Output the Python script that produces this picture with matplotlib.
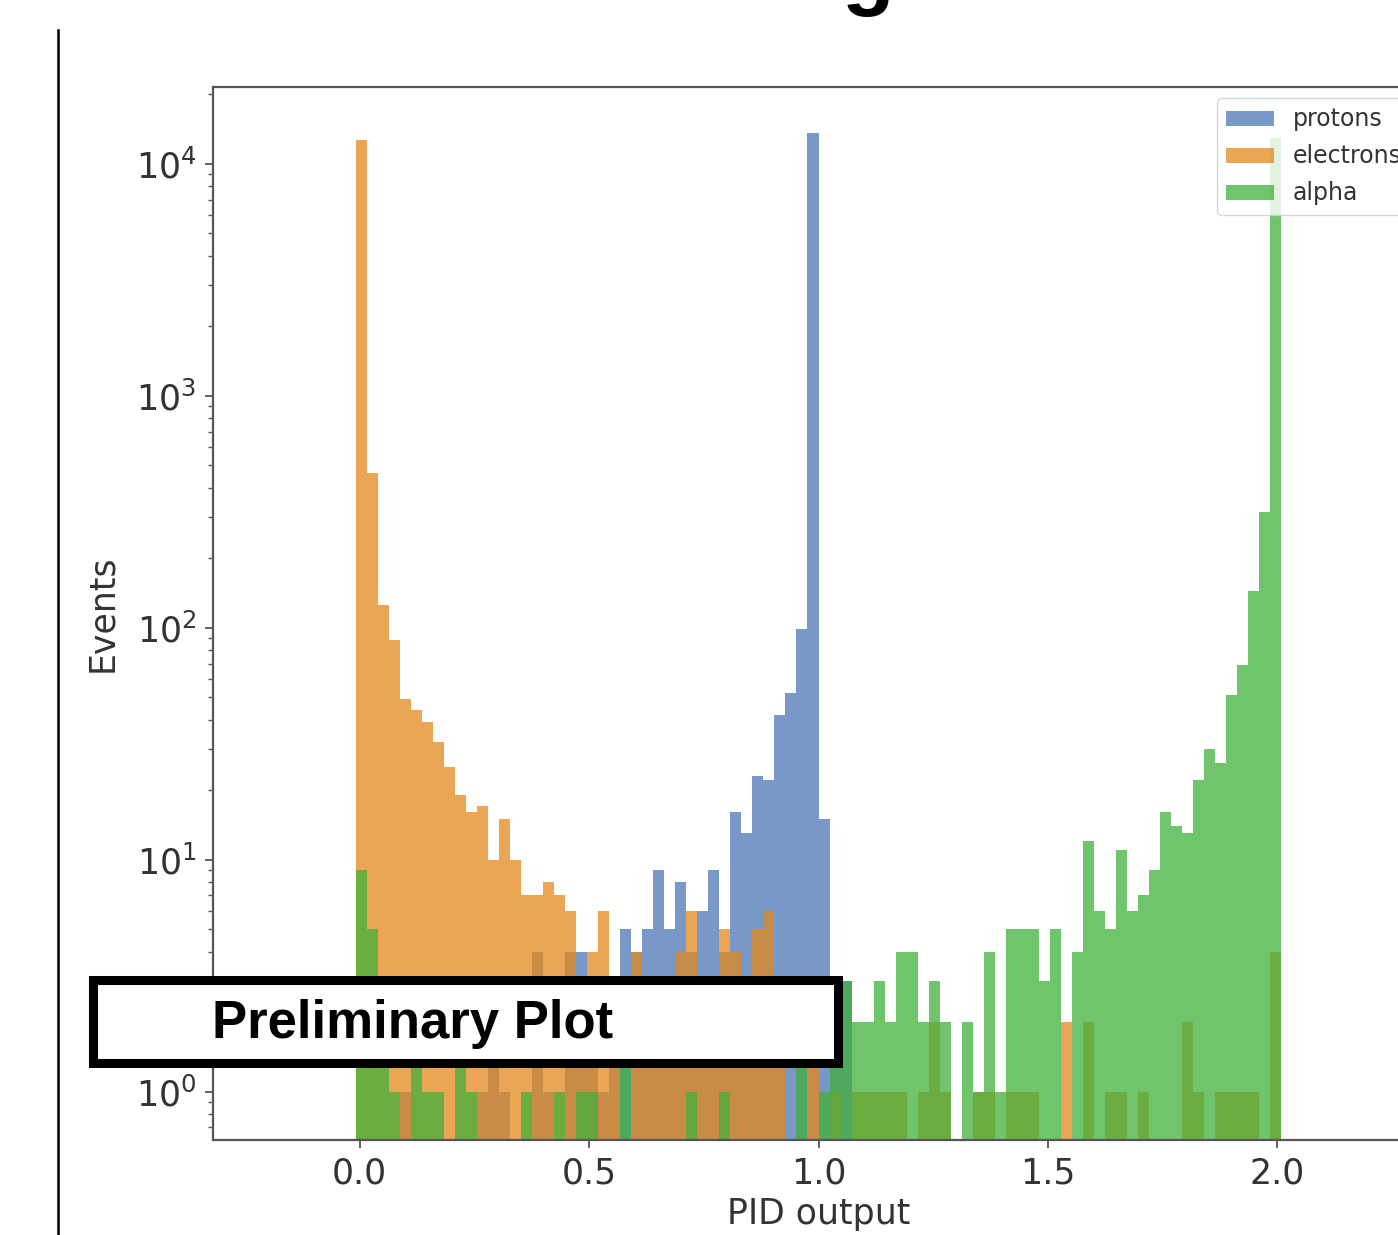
import numpy as np
import matplotlib
matplotlib.use("Agg")
import matplotlib.pyplot as plt
from matplotlib.patches import Rectangle
from matplotlib.lines import Line2D

# histogram binning (84 bins, width 0.024)
bin_edges = np.linspace(-0.008, 2.008, 85)
bin_centers = 0.5 * (bin_edges[:-1] + bin_edges[1:])

# counts per bin
protons = [0, 0, 0, 0, 1, 0, 0, 0, 0, 0,
           0, 1, 2, 1, 0, 0, 4, 1, 0, 4,
           4, 2, 1, 2, 5, 4, 5, 9, 5, 8,
           4, 6, 9, 4, 16, 13, 23, 22, 42, 52,
           99, 13500, 15, 3, 3, 0, 0, 0, 0, 0,
           0, 0, 0, 0, 0, 0, 0, 0, 0, 0,
           0, 0, 0, 0, 0, 0, 0, 0, 0, 0,
           0, 0, 0, 0, 0, 0, 0, 0, 0, 0,
           0, 0, 0, 0]
electrons = [12600, 465, 125, 88, 49, 44, 39, 32, 25, 19,
             16, 17, 10, 15, 10, 7, 7, 8, 7, 6,
             2, 4, 6, 2, 0, 4, 2, 2, 2, 4,
             6, 2, 2, 5, 4, 2, 5, 6, 2, 0,
             0, 2, 0, 1, 0, 1, 1, 1, 1, 1,
             0, 1, 2, 1, 0, 0, 1, 1, 0, 1,
             1, 1, 0, 0, 2, 0, 2, 0, 1, 1,
             0, 1, 0, 0, 0, 2, 1, 0, 1, 1,
             1, 1, 0, 4]
alpha_particles = [9, 5, 2, 1, 0, 2, 1, 1, 0, 2,
                   1, 0, 0, 0, 0, 1, 0, 0, 1, 0,
                   1, 1, 0, 0, 2, 0, 0, 0, 0, 0,
                   1, 0, 0, 1, 0, 0, 0, 0, 0, 0,
                   2, 0, 1, 2, 3, 2, 2, 3, 2, 4,
                   4, 2, 3, 2, 0, 2, 1, 4, 1, 5,
                   5, 5, 3, 5, 0, 4, 12, 6, 5, 11,
                   6, 7, 9, 16, 14, 13, 22, 30, 26, 51,
                   69, 144, 316, 12900]

series_labels = ["protons", "electrons", "alpha"]
series_colors = ["#4b76b6", "#e4881b", "#40b03b"]

fig = plt.figure(figsize=(13.98, 12.35), dpi=100)
W, H = 1398, 1235

# axes placed in pixel terms of the reference (right edge runs past the figure)
left, right, top, bottom = 213, 1424, 87, 1140
ax = fig.add_axes([left / W, 1 - bottom / H, (right - left) / W, (bottom - top) / H])

for data, lab, col in zip([protons, electrons, alpha_particles], series_labels, series_colors):
    ax.hist(bin_centers, bins=bin_edges, weights=data, color=col, alpha=0.75, label=lab)

ax.set_yscale("log")
ax.set_xlim(-0.32, 2.32)
ax.set_ylim(0.618, 21400)
ax.set_xticks([0.0, 0.5, 1.0, 1.5, 2.0])
ax.set_xticklabels(["0.0", "0.5", "1.0", "1.5", "2.0"])

for sp in ax.spines.values():
    sp.set_color("#555555")
    sp.set_linewidth(1.6)
ax.tick_params(axis="both", which="major", labelsize=25, labelcolor="#333333",
               color="#555555", length=6, width=1.3, pad=6)
ax.tick_params(axis="y", which="minor", color="#555555", length=3.5, width=1.0)

ax.set_xlabel("PID output", fontsize=25, color="#333333")
ax.xaxis.set_label_coords(0.5, -(1197 - bottom) / (bottom - top))
ax.set_ylabel("Events", fontsize=25, color="#333333", labelpad=12)

leg = ax.legend(loc="upper left", bbox_to_anchor=((1217 - left) / (right - left), (bottom - 98) / (bottom - top)),
                borderaxespad=0, fontsize=17, framealpha=0.8, edgecolor="#cccccc",
                fancybox=True, labelspacing=0.55, handlelength=2.0, handleheight=0.6,
                handletextpad=0.8)
for t in leg.get_texts():
    t.set_color("#333333")

# slide decorations around the pasted chart
fig.add_artist(Line2D([58 / W, 58 / W], [0, 1 - 30 / H], color="black", linewidth=1.8))
fig.add_artist(Rectangle((92.5 / W, 1 - 1062.5 / H), (837.5 - 92.5) / W, (1062.5 - 979.5) / H,
                         facecolor="white", edgecolor="black", linewidth=6.5, zorder=10))
fig.text(212 / W, 1 - 1024 / H, "Preliminary Plot", fontsize=38, fontweight="bold",
         family="Liberation Sans", ha="left", va="center", zorder=11)
# bottom of the slide title, cut off by the crop
fig.text(868 / W, 1 + 1 / H, "g", fontsize=62, fontweight="bold", family="Liberation Sans",
         ha="center", va="baseline")

fig.savefig("out.png", dpi=100)
